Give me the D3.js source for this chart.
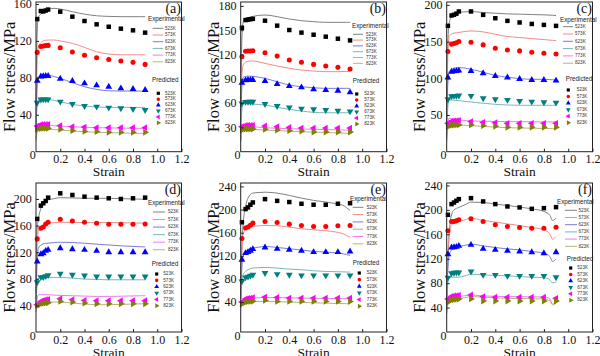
<!DOCTYPE html>
<html><head><meta charset="utf-8">
<script src="https://cdn.jsdelivr.net/npm/d3@7"></script>
<style>body{margin:0;background:#fff}svg{display:block}</style>
</head><body>
<svg id="c" width="600" height="356"></svg>
<script>
// ---------------- data ----------------
const temps = ["523K", "573K", "623K", "673K", "773K", "823K"];
const lineStrain = [0, 0.01, 0.02, 0.04, 0.06, 0.1, 0.15, 0.2, 0.3, 0.4, 0.5, 0.6, 0.7, 0.8, 0.85, 0.87, 0.9];
const predStrain = [0.01, 0.04, 0.06, 0.08, 0.1, 0.2, 0.3, 0.4, 0.5, 0.6, 0.7, 0.8, 0.9];
const strainTicks = [0.2, 0.4, 0.6, 0.8, 1.0, 1.2];
const yTicksA = [40, 80, 120, 160];
const yTicksB = [30, 60, 90, 120, 150, 180];
const yTicksC = [50, 100, 150, 200];
const yTicksD = [40, 80, 120, 160, 200];
const yTicksE = [40, 80, 120, 160, 200, 240];
const yTicksF = [40, 80, 120, 160, 200, 240];

// experimental curves (rows: 523K..823K, columns follow lineStrain)
const expA = [
  [50,130,146,149,152,154.5,155.3,154.6,151.7,149,147.3,146.6,146.3,146.3,146.3,146.3,146.3],
  [40,100,114,118,120,121,121,120,117.4,113,108.3,105.8,105,105,105,105,105],
  [30,70,79,82,83,83,81.5,79.5,74.8,70.4,67.5,66,65.7,65.7,65.7,65.7,65.7],
  [25,50,56,57.8,57.8,57,55.5,54,51.3,49.5,48.4,48,48,48,48,48,48],
  [15,26,28.9,29,29,28.5,28.1,27.8,27.1,26.5,26,25.8,25.6,25.4,25.3,25.3,25.3],
  [12,22,25.3,25.3,25,24.5,24,23.5,22.5,21.7,21,20.6,20.3,20,19.9,19.9,19.9]
];
const expB = [
  [50,140,160,164,165.5,167,168.3,168.7,166.7,163.8,161.7,160.5,159.7,159.7,159.7,159.7,159.7],
  [40,95,107,110.5,111.5,112,110.8,109,105.8,102.9,100.8,99.6,98.8,98.8,99,99,99.2],
  [30,80,91.8,93,93.4,93,92,90.5,86.4,82.3,80.2,79,78.2,78.2,78.2,78.2,78.2],
  [25,52,59.7,59.8,59.5,58.8,58.3,57.6,54.7,52.3,50.2,48.6,48.1,48.1,48.1,48.1,48.1],
  [15,28,31.7,31.6,31.3,30.8,30.2,29.6,28.9,28.4,28,27.6,27.3,27,26.8,26.7,26.7],
  [12,25,28.8,28.5,28.2,27.6,27.1,26.7,26,25.3,24.7,24.2,23.7,23.2,22.8,22.7,22.6]
];
const expC = [
  [60,150,175,184,187,189.5,190.5,191,189.5,188.6,187.7,187.3,186.8,186.4,186,185.8,185.5],
  [50,135,156.8,160,161.5,162.3,163.8,164.5,163.2,160,156.8,155.5,154,152.7,152,151.7,151.4],
  [40,95,109,112,113.8,114.5,113.8,112.3,108.2,104,101.4,99.5,98.6,98.6,98.2,98,97.7],
  [30,62,70.5,70.3,70,69.5,68.6,67.7,66,64.5,63.6,63.2,63.2,63.2,63.2,63.2,63.2],
  [20,40,45.5,45,44.3,43.2,42.4,41.8,41.5,41.2,41,40.9,40.8,40.6,40.5,40.5,40.5],
  [15,33,37.7,37.3,37,36.4,36,35.5,34.5,33.5,32.7,32.3,32,31.7,31.5,31.4,31.4]
];
const expD = [
  [60,156,170,186,193.5,198.5,200.5,202,201.5,201,201,201,200.5,200,199.8,199.6,199.5],
  [50,135,151,157,161,163.5,164.5,165,164.8,164.5,164.5,164.5,164.3,164,163.8,163.6,163.5],
  [45,110,126,130.5,132.5,133.5,134.5,135,134.5,133.5,132,130.8,129.5,128.7,128.3,128.1,128],
  [40,72,81,82,82,82,82,82,81,79.5,79,78.5,78.5,78.5,78.5,78.5,78.5],
  [35,50,56,56.2,56.2,56,55.5,55,54.5,54,53.5,53.5,53.8,54.2,54.4,54.5,54.5],
  [30,40,43.5,44,44.5,45,45,45,43.5,42,41,41,41.5,42,42.3,42.4,42.5]
];
const expE = [
  [60,139,175,205,219.8,228.4,229.5,230,228.4,224.4,219.8,215.8,213,209.4,206.5,203.5,198.5],
  [50,130,156.4,166,169,170.8,171.8,172.5,172,169.7,166.8,165,163.4,160.5,157.6,155.5,151.9],
  [45,100,119,127,130.5,133.4,135,136.3,134.5,132.2,130,127.6,126.5,124.7,123.3,122.3,120.7],
  [40,75,87.3,93,96,98.8,99.5,100,98.8,97,96,94.2,93,92.5,92.2,92,91.9],
  [35,40,44,45.5,46.3,47,47.6,48,47.8,47.4,47,46.7,46.4,46.1,46,45.9,45.8],
  [30,36,39.4,40,40.5,41,41.1,41.2,40.6,40,39.4,38.8,38.2,37.6,37.3,37.2,37.1]
];
const expF = [
  [60,115,160,192,200,204,208.3,212.7,212.1,209.4,207.2,204.5,201.7,197.4,190.8,182.6,186.4],
  [50,130,159,175,178.5,181,183.7,186.4,182.6,180,177,174.4,171,167.3,160.2,152,156.4],
  [45,105,126.3,134,137.8,140,142,143.8,141,138.3,136.1,134.5,131.8,129,123.6,115.4,119.7],
  [40,80,89.7,89.7,89.7,89.7,92,94.6,93.5,92.7,91.9,90.8,89.7,89,85.3,80.5,81.5],
  [35,50,55.2,56.5,57.2,58,59.4,60.7,59,58.5,58,57.8,57.6,57.4,54.1,46,48.7],
  [30,45,50.8,52,53,54.5,56.3,58,57,56,55.2,54.8,54.5,54.1,51,44.5,47]
];

// predicted values (rows: 523K..823K, columns follow predStrain)
const predA = [
  [143.7,152.4,152,153,154,151.7,146.3,141.6,138,135.4,133.3,131.5,129],
  [107.6,114,114.5,115,115.2,112.7,108,104.4,101.8,100,98.2,96.8,94.6],
  [76.9,81.5,81.8,82,82,79,76.6,74,71.9,70.4,68.6,67.9,66.8],
  [53,56.5,56.7,56.7,56.7,54.2,51.6,49.5,48.8,47.7,47,46.2,45.1],
  [27.8,29.4,29.6,29.6,29.6,28.2,27.1,26.7,26,26,26,26,26],
  [24.2,25.1,25.3,25.3,25.3,24.2,22.8,22,21.7,21,21,21,21]
];
const predB = [
  [153,162.5,163,163.5,164,161.7,155.6,150.2,147,144.4,142,139.5,137.4],
  [117.3,124,124.3,124.3,124.5,122.2,118,113.2,110.3,107.8,105.8,104.1,102],
  [85,88.3,88.5,88.5,88.5,87.2,83.5,81,79.4,77,76.1,75.3,73.3],
  [59.7,61.5,61.7,61.7,61.7,58.8,56.4,54.7,53.1,52.3,51.4,50.6,49.8],
  [30.9,32.5,32.5,32.5,32.5,31.7,30.9,30,29.2,29.2,29.2,29.2,29.2],
  [26.7,28,28,28,28,27.6,26.7,25.9,25.5,24.3,24.3,24.3,24.3]
];
const predC = [
  [171.4,185.5,186.5,188,191,191,186.4,181.8,178.2,176,174,172.7,171.4],
  [136.4,146.5,147.5,148.5,150,149,145.5,141,138.6,137.3,135.5,134,133.2],
  [101,109,109.5,110,110.5,110,106.8,103.2,101,99,97.7,97.7,96.8],
  [71.4,75.5,76,76,76.5,76,72.7,71.4,70.5,69,68.2,67.3,66.8],
  [38.6,41.5,42,42.3,42.5,41,40,39.5,38.6,38.6,38.6,38.6,38.6],
  [34,36,36.2,36.4,36.5,36.4,35.5,34.5,33.2,33.2,33.2,33.2,33.2]
];
const predD = [
  [170,190,193.5,197,202,208.5,206,203.5,202,201,200,201,202],
  [140,156,158,162.5,165,169.5,167,165,163.5,162,162,162,162.5],
  [106,117,118.5,122,123.5,126,124.5,123.5,122,120,120,120,120],
  [75,82.5,82.5,84,85.5,87.5,86,85,83.5,83.5,83.5,83.5,83.5],
  [41,46,47.5,48.5,49,50,48.5,47.5,47,47,47,47,47],
  [39.5,42.5,43,43.5,44,46,45,43.5,42.5,42.5,42.5,42.5,42.5]
];
const predE = [
  [178,200.8,203.7,208.3,212.3,218,215,213,210,208.3,208.3,210,211],
  [150,168,170,173,176.5,179.5,177.7,174.8,172.5,170.8,170.8,172,172.5],
  [113.2,124.7,126.5,128.8,131.6,134.5,132.1,130.5,128.8,126.5,126.5,126.5,127.6],
  [75.8,82.7,84,85.6,87.3,90.2,88.4,87.3,86.1,86.1,86.1,86.1,86.1],
  [40,45.5,46.5,47,47.5,48.6,48,47,47,47,47,47,47],
  [36.5,40,40.8,41.2,41.5,42.9,41.2,41.2,41.2,41.2,41.2,41.2,41.2]
];
const predF = [
  [192,209.4,212,214.9,217.6,219.2,213.8,209.4,205.6,204,201.7,202.8,204.5],
  [165.7,181,181,182,183.7,185.3,181,175.5,172.8,171.1,170,170,171.7],
  [127.4,138.3,138.8,139.4,141,142.7,136.1,134.5,132.9,131.8,130.7,129,130.7],
  [89,96.2,97,97.3,97.5,99,93.5,93.5,91.9,91.9,91.9,91.9,89.7],
  [54,58.5,59.2,59.6,60,60.7,58,56.9,56.9,56.9,56.9,56.9,55.2],
  [48.7,52.5,53,53.6,54,54.1,50.8,50.8,50.8,50.8,50.8,50.8,50.8]
];

// ---------------- styling / layout ----------------
const lineColors = ["#808080", "#f08c8c", "#7b7bdc", "#7ab8b4", "#f07cf0", "#b4b47c"];
const markColors = ["#000000", "#ff0000", "#0000ff", "#007f7f", "#ff00ff", "#7f7f00"];
const markShapes = [
  {type: d3.symbolSquare, rot: 0, size: 20},
  {type: d3.symbolCircle, rot: 0, size: 20},
  {type: d3.symbolTriangle, rot: 0, size: 20},
  {type: d3.symbolTriangle, rot: 180, size: 20},
  {type: d3.symbolTriangle, rot: -90, size: 20},
  {type: d3.symbolTriangle, rot: 90, size: 20}
];

const panels = [
  {lab: "(a)", exp: expA, pred: predA, yt: yTicksA, x0: 36, x1: 181.5, yb: 151.7, ytop: 2, dom: [0, 162.2],
   lg: {tx: 148, ty: 19, lx0: 152.7, lx1: 163.3, lbx: 165, ry: 28.3, rdy: 6.7, px: 152, py: 80.7, mx: 158.3, pbx: 165, pry: 93.3, pdy: 5.9}},
  {lab: "(b)", exp: expB, pred: predB, yt: yTicksB, x0: 240.7, x1: 386.5, yb: 151.7, ytop: 2, dom: [0, 184.8],
   lg: {tx: 352, ty: 26, lx0: 353, lx1: 363, lbx: 366, ry: 34.3, rdy: 5.8, px: 352.7, py: 81.7, mx: 356.7, pbx: 364.3, pry: 94, pdy: 6}},
  {lab: "(c)", exp: expC, pred: predC, yt: yTicksC, x0: 446.7, x1: 592.5, yb: 151.7, ytop: 2, dom: [0, 203.9],
   lg: {tx: 560, ty: 20, lx0: 563, lx1: 573, lbx: 575, ry: 26.7, rdy: 7.3, px: 565.7, py: 79, mx: 568.3, pbx: 576.7, pry: 90, pdy: 6.55}},
  {lab: "(d)", exp: expD, pred: predD, yt: yTicksD, x0: 36, x1: 181.5, yb: 332, ytop: 183, dom: [0, 224],
   lg: {tx: 148, ty: 203, lx0: 153, lx1: 165, lbx: 168, ry: 212, rdy: 7.55, px: 151.7, py: 264.7, mx: 156.7, pbx: 163.3, pry: 274, pdy: 6.35}},
  {lab: "(e)", exp: expE, pred: predE, yt: yTicksE, x0: 240.7, x1: 386.5, yb: 332, ytop: 183, dom: [-11.7, 245.9],
   lg: {tx: 350, ty: 199, lx0: 352.7, lx1: 363.3, lbx: 366.7, ry: 207.3, rdy: 7.3, px: 352.7, py: 263, mx: 359.3, pbx: 366.7, pry: 273, pdy: 6.65}},
  {lab: "(f)", exp: expF, pred: predF, yt: yTicksF, x0: 446.7, x1: 592.5, yb: 332, ytop: 183, dom: [0, 244],
   lg: {tx: 557, ty: 202, lx0: 565, lx1: 577, lbx: 578.5, ry: 210.3, rdy: 7.2, px: 566.7, py: 259, mx: 570.7, pbx: 577.3, pry: 268, pdy: 6.45}}
];

const serif = "'Liberation Serif','Times New Roman',serif";
const sans = "'Liberation Sans',Arial,sans-serif";
const svg = d3.select("#c");

function sym(i, size) {
  return d3.symbol().type(markShapes[i].type).size(size)();
}

panels.forEach((p, pi) => {
  const g = svg.append("g");
  const x = d3.scaleLinear().domain([0, 1.2]).range([p.x0, p.x1]);
  const y = d3.scaleLinear().domain(p.dom).range([p.yb, p.ytop]);

  // experimental lines
  const line = d3.line().x((d, i) => x(lineStrain[i])).y(d => y(d)).curve(d3.curveMonotoneX);
  p.exp.forEach((row, k) => {
    g.append("path").attr("d", line(row)).attr("fill", "none")
      .attr("stroke", lineColors[k]).attr("stroke-width", 1);
  });

  // predicted markers
  p.pred.forEach((row, k) => {
    g.append("g").selectAll("path").data(row).join("path")
      .attr("d", sym(k, markShapes[k].size))
      .attr("transform", (d, i) => `translate(${x(predStrain[i])},${y(d)}) rotate(${markShapes[k].rot})`)
      .attr("fill", markColors[k]);
  });

  // axes
  const xa = g.append("g").attr("transform", `translate(0,${p.yb})`)
    .call(d3.axisBottom(x).tickValues(strainTicks).tickSizeInner(-3).tickSizeOuter(0)
      .tickPadding(3).tickFormat(d3.format(".1f")));
  const ya = g.append("g").attr("transform", `translate(${p.x0},0)`)
    .call(d3.axisLeft(y).tickValues(p.yt).tickSizeInner(-3).tickSizeOuter(0).tickPadding(4.3));
  [xa, ya].forEach(a => {
    a.select(".domain").remove();
    a.selectAll("line").attr("stroke", "#222");
    a.selectAll("text").attr("font-family", serif).attr("font-size", 12).attr("fill", "#111");
  });
  // corner zero
  g.append("text").attr("x", p.x0 - 3.3).attr("y", p.yb + 7.5).attr("text-anchor", "middle")
    .attr("font-family", serif).attr("font-size", 12).attr("fill", "#111").text("0");

  // frame
  g.append("rect").attr("x", p.x0).attr("y", p.ytop).attr("width", p.x1 - p.x0).attr("height", p.yb - p.ytop)
    .attr("fill", "none").attr("stroke", "#222").attr("stroke-width", 1);

  // axis titles
  g.append("text").attr("x", (p.x0 + p.x1) / 2).attr("y", p.yb + 24.5).attr("text-anchor", "middle")
    .attr("font-family", serif).attr("font-size", 13.5).attr("fill", "#111").text("Strain");
  g.append("text").attr("transform", `translate(${p.x0 - 21.5},${(p.yb + p.ytop) / 2}) rotate(-90)`)
    .attr("text-anchor", "middle").attr("font-family", serif).attr("font-size", 16.5).attr("fill", "#111")
    .text("Flow stress/MPa");

  // panel label
  g.append("text").attr("x", p.x1 - 0.5).attr("y", p.ytop + 10.5).attr("text-anchor", "end")
    .attr("font-family", serif).attr("font-size", 14).attr("fill", "#111").text(p.lab);

  // legend
  const L = p.lg;
  g.append("text").attr("x", L.tx).attr("y", L.ty).attr("dominant-baseline", "middle")
    .attr("font-family", sans).attr("font-size", 6.3).attr("fill", "#222").text("Experimental");
  temps.forEach((t, k) => {
    const yy = L.ry + k * L.rdy;
    g.append("line").attr("x1", L.lx0).attr("x2", L.lx1).attr("y1", yy).attr("y2", yy)
      .attr("stroke", lineColors[k]).attr("stroke-width", 1);
    g.append("text").attr("x", L.lbx).attr("y", yy).attr("dominant-baseline", "middle")
      .attr("font-family", sans).attr("font-size", 4.6).attr("fill", "#333").text(t);
  });
  g.append("text").attr("x", L.px).attr("y", L.py).attr("dominant-baseline", "middle")
    .attr("font-family", sans).attr("font-size", 6.3).attr("fill", "#222").text("Predicted");
  temps.forEach((t, k) => {
    const yy = L.pry + k * L.pdy;
    g.append("path").attr("d", sym(k, 10))
      .attr("transform", `translate(${L.mx},${yy}) rotate(${markShapes[k].rot})`)
      .attr("fill", markColors[k]);
    g.append("text").attr("x", L.pbx).attr("y", yy).attr("dominant-baseline", "middle")
      .attr("font-family", sans).attr("font-size", 4.6).attr("fill", "#333").text(t);
  });
});
</script>
</body></html>
